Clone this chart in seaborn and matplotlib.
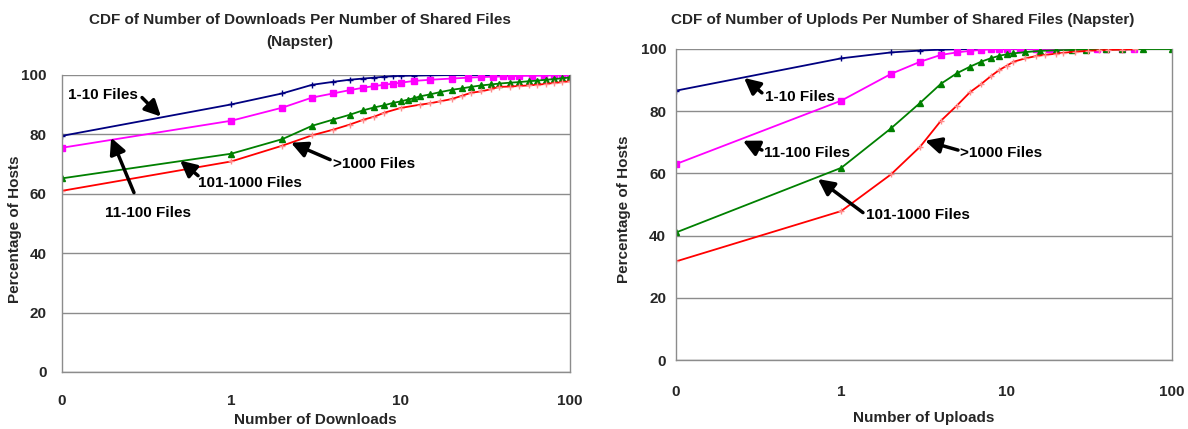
import numpy as np
import pandas as pd
import matplotlib
matplotlib.use("Agg")
import matplotlib.pyplot as plt
import seaborn as sns

sns.set_theme(style="white")
plt.rcParams["font.family"] = ["Liberation Sans", "DejaVu Sans"]
plt.rcParams["font.weight"] = "bold"

# ---- Downloads (left panel) ----
dl_x_small = [0, 1, 2, 3, 4, 5, 6, 7, 8, 9, 10, 12, 15, 20, 25, 30, 40, 50,
              60, 70, 80, 90, 100]
dl_small = [79.5, 90.1, 93.8, 96.7, 97.7, 98.4, 98.8, 99.1, 99.4, 99.6, 99.7,
            99.8, 99.9, 100.0, 100.0, 100.0, 100.0, 100.0, 100.0, 100.0,
            100.0, 100.0, 100.0]

dl_x_mid = [0, 1, 2, 3, 4, 5, 6, 7, 8, 9, 10, 12, 15, 20, 25, 30, 35, 40, 45,
            50, 60, 70, 80, 90, 100]
dl_mid = [75.5, 84.6, 89.0, 92.4, 93.8, 94.9, 95.7, 96.3, 96.7, 97.1, 97.4,
          98.0, 98.4, 98.8, 99.1, 99.3, 99.4, 99.5, 99.6, 99.7, 99.75, 99.8,
          99.9, 99.95, 100.0]

dl_x_large = [0, 1, 2, 3, 4, 5, 6, 7, 8, 9, 10, 11, 12, 13, 15, 17, 20, 23, 26,
              30, 34, 38, 44, 50, 57, 64, 72, 80, 90, 100]
dl_large = [65.2, 73.5, 78.4, 82.9, 85.0, 86.6, 88.1, 89.1, 89.8, 90.6, 91.1,
            91.7, 92.2, 92.8, 93.5, 94.2, 95.0, 95.5, 96.0, 96.5, 96.8, 97.1,
            97.4, 97.6, 97.9, 98.1, 98.4, 98.6, 98.9, 99.2]

dl_x_huge = [0, 1, 2, 3, 4, 5, 6, 7, 8, 10, 13, 15, 17, 20, 23, 26, 30, 34,
             38, 44, 50, 57, 64, 72, 80, 90, 100]
dl_huge = [61.0, 70.9, 76.2, 79.7, 81.6, 83.3, 84.9, 86.0, 87.3, 88.9, 90.0,
           90.5, 91.1, 91.9, 93.0, 94.0, 94.5, 95.2, 96.0, 96.1, 96.3, 96.5,
           96.7, 97.0, 97.3, 97.6, 97.9]

# ---- Uploads (right panel) ----
ul_x_small = [0, 1, 2, 3, 4, 5, 6, 7, 8, 10, 15, 20]
ul_small = [86.6, 97.0, 98.9, 99.5, 99.8, 99.9, 100.0, 100.0, 100.0, 100.0,
            100.0, 100.0]

ul_x_mid = [0, 1, 2, 3, 4, 5, 6, 7, 8, 9, 10, 12, 15, 18, 20, 25, 30, 35, 40,
            50, 59]
ul_mid = [63.0, 83.4, 92.0, 95.9, 98.1, 98.9, 99.4, 99.7, 99.9, 100.0, 100.0,
          100.0, 100.0, 100.0, 100.0, 100.0, 100.0, 100.0, 100.0, 100.0, 100.0]

ul_x_large = [0, 1, 2, 3, 4, 5, 6, 7, 8, 9, 10, 11, 13, 16, 20, 25, 30, 40,
              50, 67, 100]
ul_large = [41.0, 61.8, 74.5, 82.7, 88.8, 92.2, 94.3, 95.9, 97.0, 97.8, 98.3,
            98.6, 99.0, 99.4, 99.6, 99.7, 99.8, 99.9, 99.9, 100.0, 100.0]

ul_x_huge = [0, 1, 2, 3, 4, 5, 6, 7, 8, 9, 10, 11, 13, 15, 17, 20, 22, 26, 31,
             36, 41, 50, 60]
ul_huge = [31.7, 47.9, 59.7, 68.6, 76.9, 81.8, 86.1, 88.7, 91.2, 93.2, 94.6,
           95.9, 97.0, 97.7, 98.1, 98.5, 98.8, 99.1, 99.4, 99.6, 99.7, 99.8,
           99.9]

group_names = ["1-10 Files", "11-100 Files", "101-1000 Files", ">1000 Files"]
line_colors = ["#000080", "#FF00FF", "#008000", "#FF0000"]
marker_colors = ["#000080", "#FF00FF", "#008000", "#FF8C8C"]
marker_shapes = ["+", "s", "^", "+"]
marker_sizes = [5, 4, 4.5, 5]

tick_vals = [0, 1, 10, 100]
tick_text = ["0", "1", "10", "100"]


def log_pos(counts):
    # zero has no place on a log axis; it sits one decade below 1
    c = np.asarray(counts, dtype=float)
    return np.where(c == 0, 0.1, c)


def draw_panel(ax, series, xlabel, ytick_pad, xtick_pad, xlabel_xy, ylabel_xy):
    for (xs, ys), name, lc, mc, mk, ms in zip(series, group_names, line_colors,
                                              marker_colors, marker_shapes,
                                              marker_sizes):
        df = pd.DataFrame({"x": log_pos(xs), "y": ys})
        sns.lineplot(data=df, x="x", y="y", ax=ax, color=lc, linewidth=1.3,
                     marker=mk, markersize=ms, markerfacecolor=mc,
                     markeredgecolor=mc, markeredgewidth=1.0, legend=False,
                     sort=False, estimator=None)
    ax.set_xscale("log")
    ax.set_xlim(0.1, 100)
    ax.set_ylim(0, 100)
    ax.set_xticks(log_pos(tick_vals))
    ax.set_xticklabels(tick_text)
    ax.minorticks_off()
    ax.set_yticks([0, 20, 40, 60, 80, 100])
    ax.grid(axis="y", color="#8c8c8c", linewidth=1.0)
    ax.grid(axis="x", visible=False)
    for side in ["left", "bottom", "right"]:
        ax.spines[side].set_visible(True)
        ax.spines[side].set_color("#8c8c8c")
        ax.spines[side].set_linewidth(1.0)
    ax.spines["top"].set_visible(False)
    ax.tick_params(axis="x", direction="out", length=4, width=1,
                   color="#8c8c8c", pad=xtick_pad, labelsize=11)
    ax.tick_params(axis="y", direction="out", length=4, width=1,
                   color="#8c8c8c", pad=ytick_pad, labelsize=11)
    for lab in ax.get_xticklabels() + ax.get_yticklabels():
        lab.set_fontweight("bold")
    ax.set_xlabel(xlabel, fontsize=11, fontweight="bold")
    ax.set_ylabel("Percentage of Hosts", fontsize=11, fontweight="bold")
    ax.xaxis.set_label_coords(*xlabel_xy)
    ax.xaxis.label.set_va("center")
    ax.yaxis.set_label_coords(*ylabel_xy)
    ax.yaxis.label.set_va("center")
    ax.yaxis.label.set_ha("center")


def label_with_arrow(ax, text, text_xy, tail_xy, head_xy):
    ax.text(text_xy[0], text_xy[1], text, ha="center", va="center",
            fontsize=11, fontweight="bold", color="black")
    ax.annotate("", xy=head_xy, xytext=tail_xy,
                arrowprops=dict(arrowstyle="-|>,head_length=0.8,head_width=0.4",
                                color="black", lw=2.5, shrinkA=0, shrinkB=0))


fig = plt.figure(figsize=(11.88, 4.29), dpi=100)
ax1 = fig.add_axes([0.0522, 0.1329, 0.4276, 0.6923])
ax2 = fig.add_axes([0.5690, 0.1608, 0.4175, 0.7250])

draw_panel(ax1, [(dl_x_small, dl_small), (dl_x_mid, dl_mid),
                 (dl_x_large, dl_large), (dl_x_huge, dl_huge)],
           "Number of Downloads", ytick_pad=7, xtick_pad=12,
           xlabel_xy=(0.498, -0.162), ylabel_xy=(-0.0925, 0.481))
draw_panel(ax2, [(ul_x_small, ul_small), (ul_x_mid, ul_mid),
                 (ul_x_large, ul_large), (ul_x_huge, ul_huge)],
           "Number of Uploads", ytick_pad=3, xtick_pad=14,
           xlabel_xy=(0.5, -0.186), ylabel_xy=(-0.105, 0.486))

label_with_arrow(ax1, "1-10 Files", (0.1746, 93.4), (0.297, 92.4), (0.384, 86.0))
label_with_arrow(ax1, "11-100 Files", (0.322, 53.6), (0.266, 60.4), (0.195, 78.9))
label_with_arrow(ax1, "101-1000 Files", (1.29, 63.7), (0.636, 66.1), (0.498, 71.2))
label_with_arrow(ax1, ">1000 Files", (6.97, 70.1), (3.83, 71.5), (2.25, 77.2))

label_with_arrow(ax2, "1-10 Files", (0.5625, 84.6), (0.331, 85.9), (0.258, 90.7))
label_with_arrow(ax2, "11-100 Files", (0.620, 66.6), (0.331, 67.5), (0.254, 70.5))
label_with_arrow(ax2, ">1000 Files", (9.25, 66.6), (5.08, 67.5), (3.21, 70.5))
label_with_arrow(ax2, "101-1000 Files", (2.91, 46.7), (1.352, 47.4), (0.722, 58.2))

fig.text(300 / 1188, 1 - 20 / 429,
         "CDF of Number of Downloads Per Number of Shared Files",
         ha="center", va="center", fontsize=11, fontweight="bold")
fig.text(300 / 1188, 1 - 42 / 429, "(Napster)",
         ha="center", va="center", fontsize=11, fontweight="bold")
fig.text(903 / 1188, 1 - 20 / 429,
         "CDF of Number of Uplods Per Number of Shared Files (Napster)",
         ha="center", va="center", fontsize=11, fontweight="bold")

fig.savefig("out.png", dpi=100)
